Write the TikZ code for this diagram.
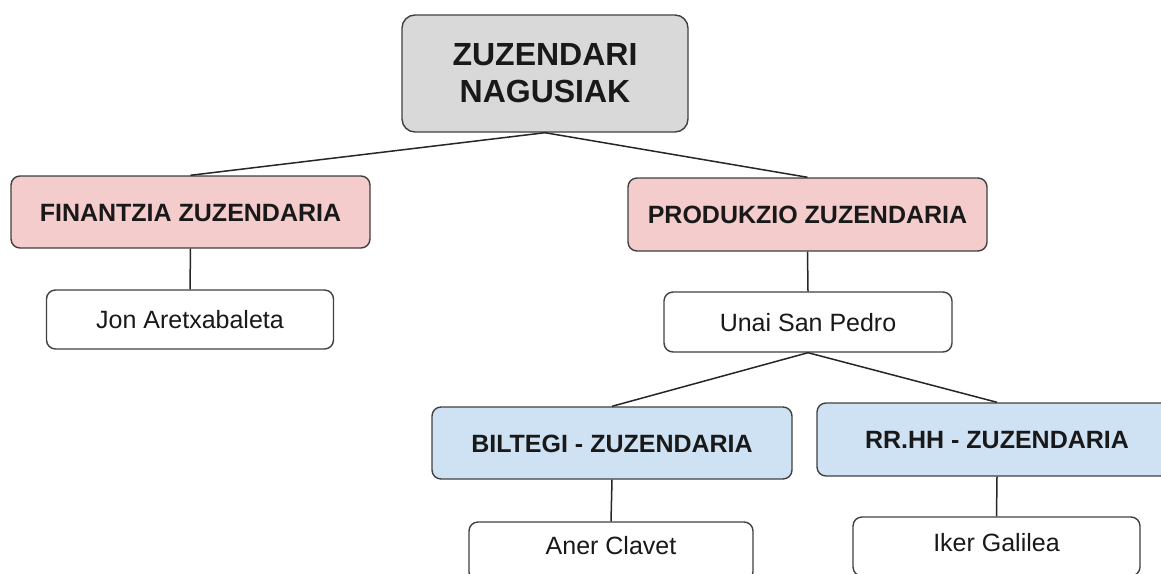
\documentclass[tikz,border=0pt]{standalone}
\usepackage{fontspec}
\setmainfont{Liberation Sans}
\definecolor{topgray}{HTML}{D9D9D9}
\definecolor{pinkfill}{HTML}{F4CCCC}
\definecolor{bluefill}{HTML}{CFE2F3}
\definecolor{edgecol}{HTML}{404040}
\begin{document}
\begin{tikzpicture}[x=1pt,y=-1pt,
  box/.style={draw=edgecol, line width=1.4pt, rounded corners=9pt, inner sep=0pt, align=center, text=black!90},
  headbox/.style={box, font=\fontsize{25}{30}\selectfont\bfseries, text height=18pt, text depth=0pt},
  namebox/.style={box, fill=white, font=\fontsize{25}{30}\selectfont, minimum width=287pt, minimum height=59pt, text height=18pt, text depth=0pt},
  conn/.style={draw=black!85, line width=1.5pt}]
\useasboundingbox (0,0) rectangle (1161,573);
\clip (0,0) rectangle (1161,573);
\node[box, fill=topgray, rounded corners=13pt, minimum width=286pt, minimum height=117pt, font=\fontsize{32}{37}\selectfont\bfseries] (top) at (545,73.5) {ZUZENDARI\\NAGUSIAK};
\node[headbox, fill=pinkfill, minimum width=359pt, minimum height=72pt] (fin) at (190.5,212) {FINANTZIA ZUZENDARIA};
\node[namebox] (jon) at (190,319.5) {Jon Aretxabaleta};
\node[headbox, fill=pinkfill, minimum width=359pt, minimum height=73pt] (prod) at (807.5,214.5) {PRODUKZIO ZUZENDARIA};
\node[namebox, minimum width=288pt, minimum height=60pt] (unai) at (808,322) {Unai San Pedro};
\node[headbox, fill=bluefill, minimum width=360pt, minimum height=72pt] (bilt) at (612,443) {BILTEGI - ZUZENDARIA};
\node[headbox, fill=bluefill, minimum width=360pt, minimum height=73pt] (rrhh) at (997,439.5) {RR.HH - ZUZENDARIA};
\node[namebox, minimum width=284pt, text depth=12pt] (aner) at (611,551.5) {Aner Clavet};
\node[namebox, text depth=8pt] (iker) at (996.5,546.5) {Iker Galilea};
\draw[conn] (top.south) -- (fin.north);
\draw[conn] (top.south) -- (prod.north);
\draw[conn] (fin.south) -- (jon.north);
\draw[conn] (prod.south) -- (unai.north);
\draw[conn] (unai.south) -- (bilt.north);
\draw[conn] (unai.south) -- (rrhh.north);
\draw[conn] (bilt.south) -- (aner.north);
\draw[conn] (rrhh.south) -- (iker.north);
\end{tikzpicture}
\end{document}
